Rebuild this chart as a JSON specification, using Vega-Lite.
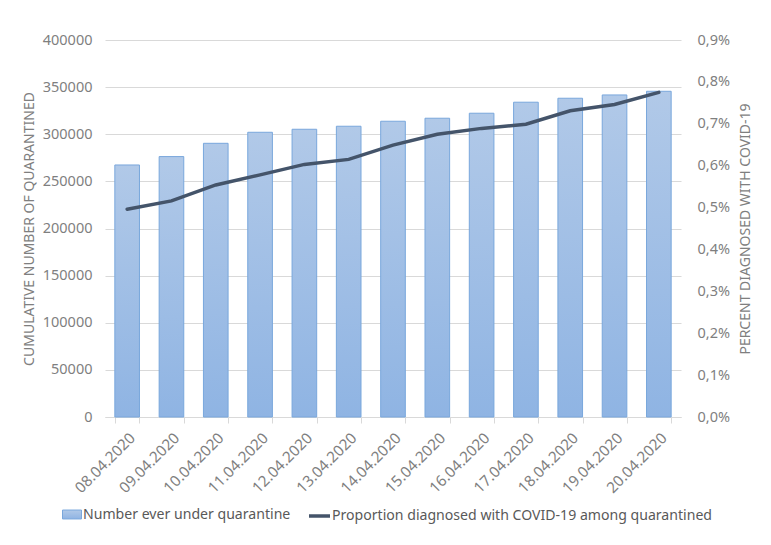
{
  "$schema": "https://vega.github.io/schema/vega-lite/v6.json",
  "width": 576,
  "height": 377,
  "autosize": {"type": "none"},
  "padding": {"left": 105, "top": 40, "right": 90, "bottom": 128},
  "background": "white",
  "config": {
    "view": {"stroke": null},
    "font": "Noto Sans",
    "axis": {"labelColor": "#7f7f7f", "titleColor": "#7f7f7f", "labelFont": "Noto Sans", "titleFont": "Noto Sans", "titleFontWeight": "normal", "labelFontSize": 14.5, "titleFontSize": 14},
    "legend": {"labelColor": "#595959", "labelFont": "Noto Sans", "labelFontSize": 14.1, "labelLimit": 500, "padding": 0}
  },
  "data": {
    "values": [
      {"date": "08.04.2020", "number": 267400, "proportion": 0.00496},
      {"date": "09.04.2020", "number": 276300, "proportion": 0.00516},
      {"date": "10.04.2020", "number": 290400, "proportion": 0.00554},
      {"date": "11.04.2020", "number": 302100, "proportion": 0.00578},
      {"date": "12.04.2020", "number": 305300, "proportion": 0.00603},
      {"date": "13.04.2020", "number": 308500, "proportion": 0.00615},
      {"date": "14.04.2020", "number": 313800, "proportion": 0.00649},
      {"date": "15.04.2020", "number": 317000, "proportion": 0.00675},
      {"date": "16.04.2020", "number": 322300, "proportion": 0.00689},
      {"date": "17.04.2020", "number": 334000, "proportion": 0.00699},
      {"date": "18.04.2020", "number": 338200, "proportion": 0.00731},
      {"date": "19.04.2020", "number": 341700, "proportion": 0.00746},
      {"date": "20.04.2020", "number": 345600, "proportion": 0.00775}
    ]
  },
  "encoding": {
    "x": {
      "field": "date", "type": "ordinal", "sort": null,
      "scale": {"paddingInner": 0.444, "paddingOuter": 0.222},
      "axis": {"title": null, "labelAngle": -45, "labelFontSize": 15.2, "tickBand": "extent", "domainColor": "#d9d9d9", "tickColor": "#d9d9d9", "tickSize": 6, "labelPadding": 7, "grid": false, "labelOverlap": false}
    }
  },
  "layer": [
    {
      "mark": {
        "type": "bar",
        "fill": {"gradient": "linear", "x1": 0, "y1": 0, "x2": 0, "y2": 1, "stops": [{"offset": 0, "color": "#b1c9e8"}, {"offset": 1, "color": "#8fb4e3"}]},
        "strokeWidth": 1
      },
      "encoding": {
        "y": {
          "field": "number", "type": "quantitative",
          "scale": {"domain": [0, 400000], "nice": false},
          "axis": {"title": "CUMULATIVE NUMBER OF QUARANTINED", "format": "d", "values": [0, 50000, 100000, 150000, 200000, 250000, 300000, 350000, 400000], "labelOverlap": false, "domain": false, "ticks": false, "gridColor": "#d9d9d9", "labelPadding": 13, "titlePadding": 6}
        },
        "stroke": {
          "datum": "Number ever under quarantine",
          "scale": {"range": ["#79a7dc"]},
          "legend": {
            "title": null,
            "orient": "none",
            "legendX": -43,
            "legendY": 464.5,
            "symbolType": "M-1,-0.47H1V0.47H-1Z",
            "symbolSize": 361,
            "symbolFillColor": "#a9c5e8",
            "symbolStrokeWidth": 1,
            "labelOffset": 1
          }
        }
      }
    },
    {
      "mark": {"type": "line", "strokeWidth": 3.5, "strokeCap": "round"},
      "encoding": {
        "y": {
          "field": "proportion", "type": "quantitative",
          "scale": {"domain": [0, 0.009], "nice": false},
          "axis": {"title": "PERCENT DIAGNOSED WITH COVID-19", "orient": "right", "titleAngle": 270, "values": [0, 0.001, 0.002, 0.003, 0.004, 0.005, 0.006, 0.007, 0.008, 0.009], "labelOverlap": false, "labelExpr": "replace(format(datum.value, '.1%'), '.', ',')", "domain": false, "ticks": false, "grid": false, "labelPadding": 16, "titlePadding": 23}
        },
        "stroke": {
          "datum": "Proportion diagnosed with COVID-19 among quarantined",
          "scale": {"range": ["#44546a"]},
          "legend": {
            "title": null,
            "orient": "none",
            "legendX": 202,
            "legendY": 463.5,
            "symbolType": "stroke",
            "symbolSize": 441,
            "symbolStrokeWidth": 3.5,
            "labelOffset": 0
          }
        }
      }
    }
  ],
  "resolve": {"scale": {"y": "independent", "stroke": "independent"}, "legend": {"stroke": "independent"}}
}
